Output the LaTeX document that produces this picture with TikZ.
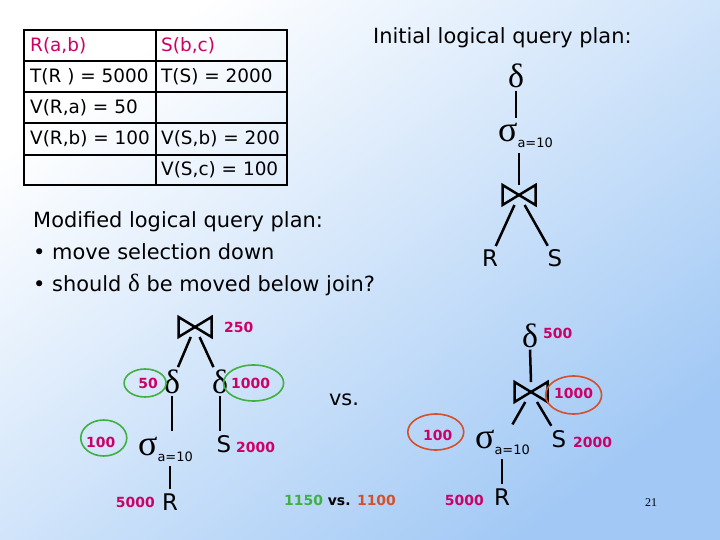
\documentclass[tikz,border=0pt]{standalone}
\usepackage{fontspec}
\setmainfont{DejaVu Sans}
\newfontfamily\greekfont{Liberation Serif}
\newfontfamily\pagefont{Liberation Serif}
\usetikzlibrary{shapes.geometric}
\definecolor{magent}{HTML}{CC0066}
\definecolor{ringgreen}{HTML}{40B040}
\definecolor{ringred}{HTML}{D4502A}
\definecolor{bgblue}{HTML}{A2C9F5}

% join symbol drawn over an empty box node
\newcommand\joinop[1]{\draw[line width=2.5bp] (#1.north west) -- (#1.south east) -- (#1.north east) -- (#1.south west) -- cycle;}
% selection with its condition
\newcommand\selop{{\fontsize{36}{36}\greekfont σ}\raisebox{-6bp}{\fontsize{13}{13}\selectfont a=10}}

\begin{document}
\begin{tikzpicture}[x=1bp, y=-1bp,
  cell/.style={anchor=west, inner sep=0pt, font=\fontsize{18.5}{20}\selectfont},
  head/.style={cell, text=magent},
  title/.style={anchor=west, inner sep=0pt, font=\fontsize{21}{25}\selectfont},
  op/.style={inner sep=2bp, anchor=base, font=\fontsize{34}{34}\greekfont},
  sel/.style={inner sep=5bp, anchor=base west},
  rel/.style={inner sep=4bp, anchor=base, font=\fontsize{23}{23}\selectfont},
  cost/.style={inner sep=1bp, text=magent, font=\fontsize{14}{14}\bfseries},
  joinbox/.style={minimum width=33bp, minimum height=20bp, inner sep=0pt, outer sep=0pt},
  edge/.style={line width=2.5bp},
  goodring/.style={draw=ringgreen, line width=1.6bp},
  badring/.style={draw=ringred, line width=1.6bp}]
\shade[top color=white, bottom color=bgblue, shading angle=37] (0,0) rectangle (720,540);
\useasboundingbox (0,0) rectangle (720,540);

% statistics table
\draw[line width=1.8bp] (24,30) rectangle (287,185) (156,30) -- (156,185);
\foreach \y in {61,92,123,155} \draw[line width=1.8bp] (24,\y) -- (287,\y);
\node[head] (ra) at (30,45.5) {R(a,b)};
\node[head] (sb) at (161,45.5) {S(b,c)};
\node[cell] (tr) at (30,76.5) {T(R ) = 5000};
\node[cell] (ts) at (161,76.5) {T(S) = 2000};
\node[cell] (vra) at (30,107.5) {V(R,a) = 50};
\node[cell] (vrb) at (30,139) {V(R,b) = 100};
\node[cell] (vsb) at (161,139) {V(S,b) = 200};
\node[cell] (vsc) at (161,170) {V(S,c) = 100};

\node[title] (init) at (373,38) {Initial logical query plan:};
\node[title] (modh) at (33,222) {Modified logical query plan:};
\node[title] (b1) at (33,252) {• move selection down};
\node[title] (b2) at (33,285) {• should {\fontsize{25}{25}\greekfont δ} be moved below join?};

% initial plan
\node[op] (d1) at (516,88) {δ};
\node[sel] (s1) at (493,142) {\selop};
\node[joinbox] (j1) at (519,195) {};
\node[rel] (r1) at (490,267) {R};
\node[rel] (t1) at (555,267) {S};
\joinop{j1}
\draw[edge] (d1.south) -- (d1.south |- s1.north);
\draw[edge] (j1.north |- s1.south) -- (j1.north);
\draw[edge] (j1) -- (r1);
\draw[edge] (j1) -- (t1);

% delta pushed below join
\node[joinbox] (j2) at (195,327) {};
\node[cost, anchor=west] (c250) at (223,327) {250};
\node[op] (dl) at (172,393) {δ};
\node[cost, anchor=east] (c50) at (159,383) {50};
\node[op] (dr) at (220,393) {δ};
\node[cost, anchor=west] (c1000) at (230,383) {1000};
\node[sel] (sl) at (133,455) {\selop};
\node[cost, anchor=west] (c100) at (85,442) {100};
\node[rel] (rl) at (170,510) {R};
\node[cost, anchor=east] (c5000) at (156,502) {5000};
\node[rel] (sr) at (224,452) {S};
\node[cost, anchor=west] (c2000) at (235,447) {2000};
\joinop{j2}
\draw[edge] (j2) -- (dl);
\draw[edge] (j2) -- (dr);
\draw[edge] (dl.south) -- (dl.south |- sl.north);
\draw[edge] (rl.north |- sl.south) -- (rl.north);
\draw[edge] (dr.south) -- (dr.south |- sr.north);
\draw[goodring] ([xshift=-3bp]c50.center) ellipse [x radius=21bp, y radius=14bp];
\draw[goodring] ([xshift=3bp]c1000.center) ellipse [x radius=30bp, y radius=18bp];
\draw[goodring] ([xshift=3bp, yshift=4bp]c100.center) ellipse [x radius=23bp, y radius=18bp];

\node[title, anchor=center] (vs) at (344,400) {vs.};
\node[cost, anchor=west, text=black] (tally) at (283,500) {\textcolor{ringgreen}{1150} vs. \textcolor{ringred}{1100}};

% delta kept above join
\node[op] (d3) at (530,347) {δ};
\node[cost, anchor=west] (c500) at (542,333) {500};
\node[joinbox] (j3) at (531,392) {};
\node[cost, anchor=west] (c1000b) at (553,393) {1000};
\node[sel] (s3) at (470,448) {\selop};
\node[cost, anchor=west] (c100b) at (422,435) {100};
\node[rel] (r3) at (502,505) {R};
\node[cost, anchor=east] (c5000b) at (485,500) {5000};
\node[rel] (t3) at (559,447) {S};
\node[cost, anchor=west] (c2000b) at (572,442) {2000};
\joinop{j3}
\draw[edge] (d3.south) -- (j3.north);
\draw[edge] (j3) -- (s3);
\draw[edge] (j3) -- (t3);
\draw[edge] (r3.north |- s3.south) -- (r3.north);
\draw[badring] ([yshift=-2bp]c1000b.center) ellipse [x radius=28bp, y radius=19bp];
\draw[badring] ([xshift=-2bp, yshift=3bp]c100b.center) ellipse [x radius=28bp, y radius=18bp];

\node[font=\fontsize{12}{12}\pagefont] (pg) at (651,503) {21};
\end{tikzpicture}
\end{document}
